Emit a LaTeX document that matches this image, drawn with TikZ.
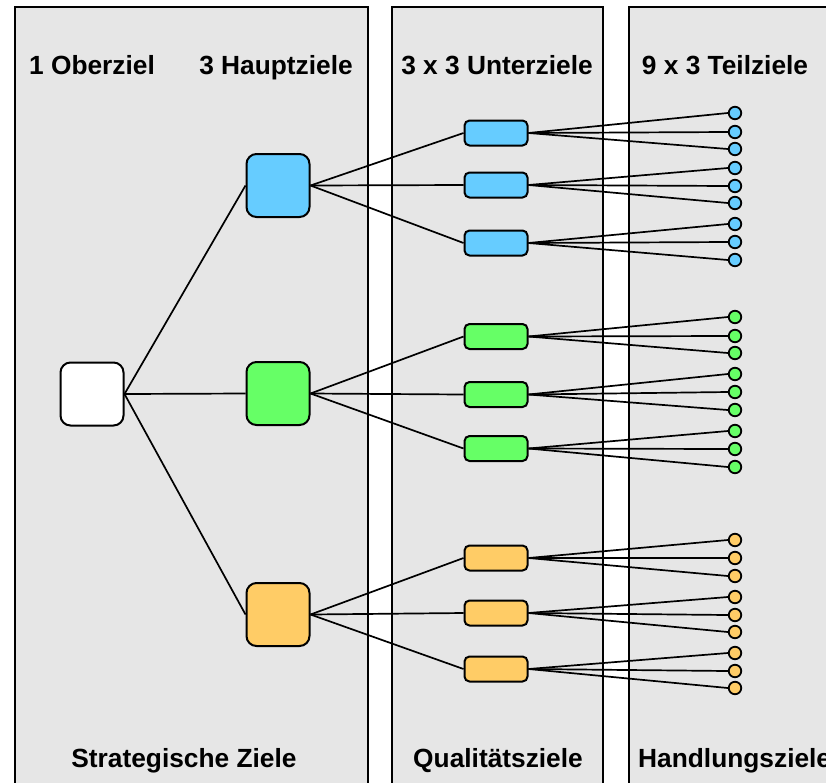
\documentclass[tikz,border=0pt]{standalone}
\usepackage{fontspec}
\setmainfont{Liberation Sans}
\begin{document}
\begin{tikzpicture}[x=1pt,y=-1pt,
  panel/.style={draw=black,line width=1.3pt,fill=panelgray},
  title/.style={font=\fontsize{26.3}{31}\selectfont\bfseries,inner sep=0pt,anchor=base},
  mainbox/.style={draw=black,line width=2pt,rounded corners=10pt,minimum width=63pt,minimum height=63pt,inner sep=0pt},
  subbox/.style={draw=black,line width=2pt,rounded corners=5pt,minimum width=63pt,minimum height=25pt,inner sep=0pt},
  leaf/.style={circle,draw=black,line width=1.8pt,minimum size=12.5pt,inner sep=0pt},
  link/.style={draw=black,line width=1.7pt}]
\definecolor{panelgray}{RGB}{230,230,230}
\definecolor{cblue}{RGB}{102,204,255}
\definecolor{cgreen}{RGB}{102,255,102}
\definecolor{corange}{RGB}{255,204,102}
\useasboundingbox (0,0) rectangle (826,782);
\begin{scope}
\clip (0,0) rectangle (826,782);
% three column panels
\draw[panel] (15,7) rectangle (368,800);
\draw[panel] (392,7) rectangle (603,800);
\draw[panel] (629,7) rectangle (860,800);
% column headings
\node[title] (t1) at (92,74) {1 Oberziel};
\node[title] (t2) at (276,74) {3 Hauptziele};
\node[title] (t3) at (497,74) {3 x 3 Unterziele};
\node[title] (t4) at (725,74) {9 x 3 Teilziele};
% column footers
\node[title] (f1) at (184,767) {Strategische Ziele};
\node[title] (f2) at (498,767) {Qualitätsziele};
\node[title,anchor=base west] (f3) at (638,767) {Handlungsziele};
\end{scope}

% root and main goals
\node[mainbox,fill=white] (root) at (92,394) {};
\node[mainbox,fill=cblue] (mb) at (278,185.5) {};
\node[mainbox,fill=cgreen] (mg) at (278,393.5) {};
\node[mainbox,fill=corange] (mo) at (278,614.5) {};

% sub goals
\foreach \n/\c/\y in {b1/cblue/133, b2/cblue/185, b3/cblue/243,
                       g1/cgreen/336.5, g2/cgreen/394.5, g3/cgreen/448.5,
                       o1/corange/558, o2/corange/613, o3/corange/669}
  \node[subbox,fill=\c] (\n) at (496,\y) {};

% leaf goals
\foreach \n/\c/\y in {b1a/cblue/113, b1b/cblue/132, b1c/cblue/149,
                      b2a/cblue/168, b2b/cblue/186, b2c/cblue/203,
                      b3a/cblue/224, b3b/cblue/242, b3c/cblue/260,
                      g1a/cgreen/317, g1b/cgreen/336, g1c/cgreen/353,
                      g2a/cgreen/374, g2b/cgreen/392, g2c/cgreen/410,
                      g3a/cgreen/431, g3b/cgreen/449, g3c/cgreen/467,
                      o1a/corange/540, o1b/corange/558, o1c/corange/576,
                      o2a/corange/597, o2b/corange/615, o2c/corange/632,
                      o3a/corange/653, o3b/corange/671, o3c/corange/688}
  \node[leaf,fill=\c] (\n) at (735,\y) {};

% connectors
\foreach \m in {mb,mg,mo} \draw[link] (root.east) -- (\m.west);
\foreach \s in {1,2,3} {
  \draw[link] (mb.east) -- (b\s.west);
  \draw[link] (mg.east) -- (g\s.west);
  \draw[link] (mo.east) -- (o\s.west);
}
\foreach \s in {b1,b2,b3,g1,g2,g3,o1,o2,o3}
  \foreach \l in {a,b,c}
    \draw[link] (\s.east) -- (\s\l.west);
\end{tikzpicture}
\end{document}
